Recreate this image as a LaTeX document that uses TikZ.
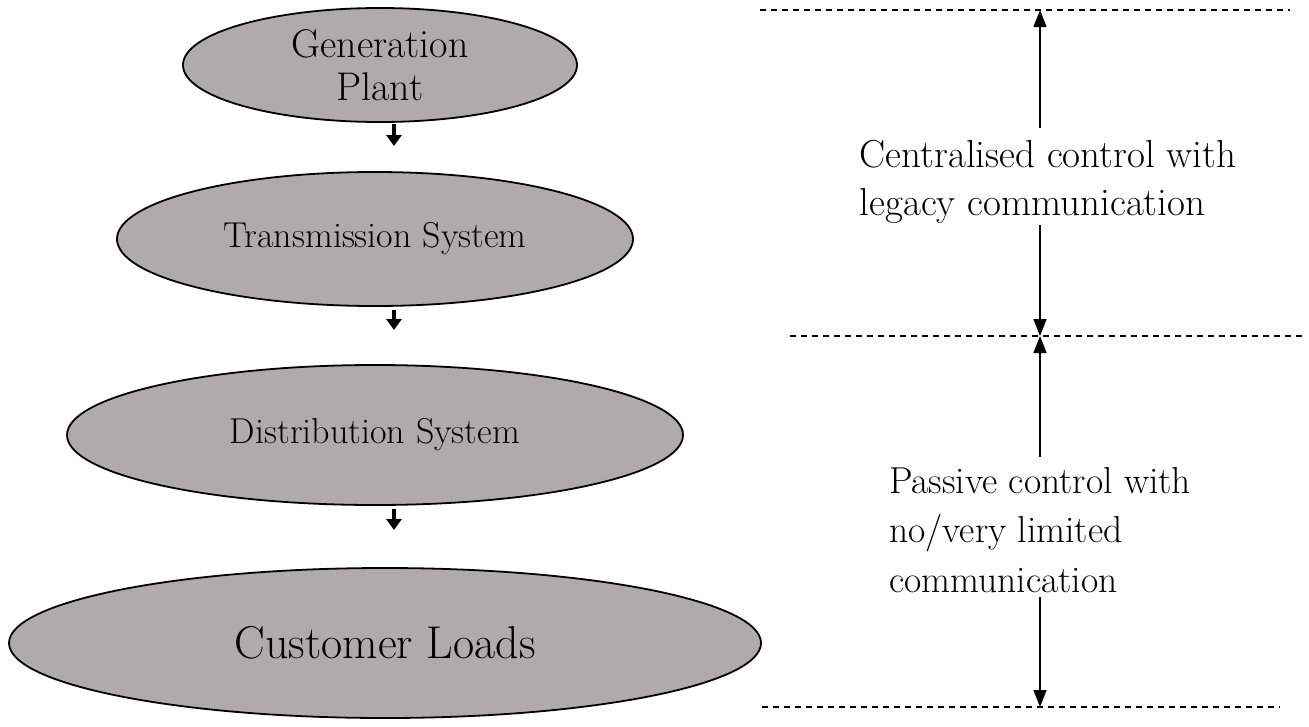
\documentclass[tikz,border=0pt]{standalone}
\usepackage{tikz}
\usetikzlibrary{arrows.meta,shapes,positioning,calc}

\definecolor{stagegrey}{RGB}{175,171,171}

\begin{document}
\begin{tikzpicture}[x=1pt,y=-1pt,
node distance=174pt,
every node/.style={font=\fontsize{36}{46}\selectfont},
stage/.style={ellipse, draw, fill=stagegrey, line width=1.8pt, inner sep=0pt, align=center},
flow/.style={line width=4.2pt, -{Triangle[width=15pt,length=11pt]}},
span/.style={line width=1.6pt, -{Triangle[width=13pt,length=17pt]}},
level/.style={line width=1.2pt, dash pattern=on 6pt off 5pt}]
\useasboundingbox (0,0) rectangle (1309,726);

\node[stage, minimum width=394pt, minimum height=114pt,
 font=\fontsize{40}{43}\selectfont]
(GEN) at (380,65) {Generation\\Plant};

\node[stage, minimum width=516pt, minimum height=134pt]
(TRANS) [below of=GEN, xshift=-5pt] {Transmission System};

\node[stage, minimum width=616pt, minimum height=140pt]
(DIST) [node distance=196pt, below of=TRANS] {Distribution System};

\node[stage, minimum width=752pt, minimum height=150pt,
 font=\fontsize{46}{50}\selectfont]
(LOADS) [node distance=208pt, below of=DIST, xshift=10pt] {Customer Loads};

%small arrows between stages
\coordinate (A1) at (394,146);
\coordinate (A2) at (394,330);
\coordinate (A3) at (394,530);
\draw[flow] (GEN.south -| A1) ++(0,-1pt) -- (A1);
\draw[flow] (A2 |- TRANS.south) ++(0,-3pt) -- (A2);
\draw[flow] (A3 |- DIST.south) ++(0,-3pt) -- (A3);

%levels
\coordinate (L0a) at (760,10);  \coordinate (L0b) at (1290,10);
\coordinate (L1a) at (790,336); \coordinate (L1b) at (1302,336);
\coordinate (L2a) at (762,707); \coordinate (L2b) at (1280,707);
\draw[level] (L0a) -- (L0b);
\draw[level] (L1a) -- (L1b);
\draw[level] (L2a) -- (L2b);

\coordinate (AX) at (1040,0);

\node[align=left, inner xsep=0pt, inner ysep=3pt,
 font=\fontsize{39}{48}\selectfont]
(CENTRAL) at (1048,182) {Centralised control with\\legacy communication};

\node[align=left, inner xsep=0pt, inner ysep=4pt,
 font=\fontsize{37.5}{49.5}\selectfont]
(PASSIVE) at (1040,530) {Passive control with\\no/very limited\\communication};

\draw[span] ($(CENTRAL.north -| AX)+(0,9pt)$) -- (L0a -| AX);
\draw[span] ($(CENTRAL.south -| AX)+(0,2pt)$) -- (L1a -| AX);
\draw[span] ($(PASSIVE.north -| AX)+(0,6pt)$) -- (L1a -| AX);
\draw[span] (PASSIVE.south -| AX) -- (L2a -| AX);

\end{tikzpicture}
\end{document}
